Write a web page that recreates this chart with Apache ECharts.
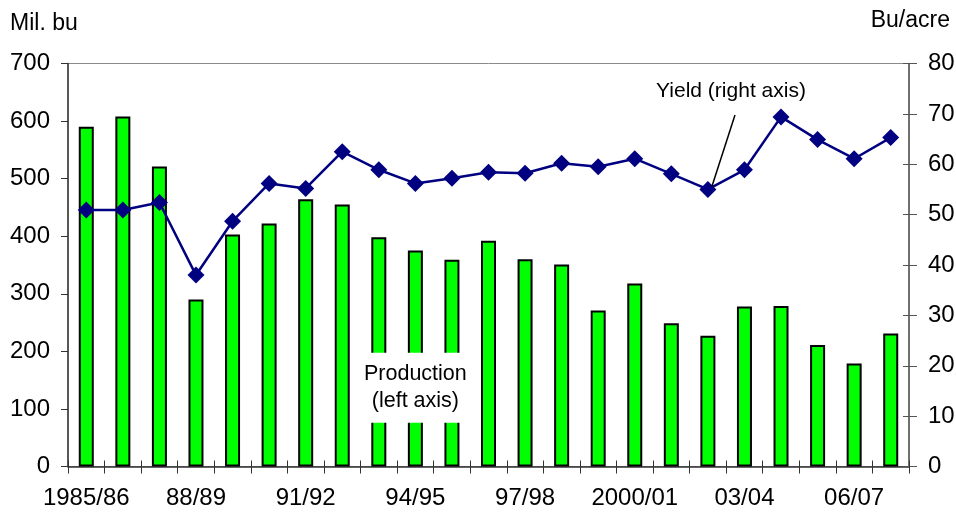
<!DOCTYPE html>
<html>
<head>
<meta charset="utf-8">
<script src="https://cdn.jsdelivr.net/npm/echarts@6/dist/echarts.min.js"></script>
<style>
html, body { margin: 0; padding: 0; background: #fff; }
#chart { width: 956px; height: 512px; }
</style>
</head>
<body>
<div id="chart"></div>
<script>
var years = ['1985/86', '86/87', '87/88', '88/89', '89/90', '90/91', '91/92', '92/93', '93/94',
	'94/95', '95/96', '96/97', '97/98', '98/99', '99/2000', '2000/01', '01/02', '02/03',
	'03/04', '04/05', '05/06', '06/07', '07/08'];
// Mil. bu (left axis)
var production = [590, 608, 521, 290, 403, 422, 464, 455, 398, 375, 359, 392, 360, 351,
	271, 318, 249, 227, 278, 279, 211, 179, 231];
// Bu/acre (right axis)
var yieldPerAcre = [50.9, 50.9, 52.4, 38.0, 48.7, 56.2, 55.2, 62.5, 58.9, 56.2, 57.2, 58.4,
	58.2, 60.2, 59.5, 61.1, 58.1, 55.0, 58.9, 69.4, 64.9, 61.1, 65.3];
var leftAxis = { min: 0, max: 700, step: 100 };
var rightAxis = { min: 0, max: 80, step: 10 };

var font = "'Liberation Sans', Arial, sans-serif";
var chart = echarts.init(document.getElementById('chart'));

chart.setOption({
	animation: false,
	backgroundColor: '#fff',
	grid: {
		left: 68, right: 47, top: 63.5, bottom: 45.5,
		show: true, borderColor: '#8a8a8a', borderWidth: 1,
		outerBoundsMode: 'none'
	},
	xAxis: [
		{
			type: 'category',
			data: years,
			axisLine: { lineStyle: { color: '#333', width: 1.5 } },
			axisTick: { show: true, interval: 0, length: 7, lineStyle: { color: '#333' } },
			axisLabel: { interval: 2, margin: 20, color: '#000', fontSize: 24, fontFamily: font },
			splitLine: { show: false }
		},
		{
			// inner half of the crossing ticks
			type: 'category',
			data: years,
			position: 'bottom',
			axisLine: { show: false },
			axisTick: { show: true, inside: true, interval: 0, length: 6, lineStyle: { color: '#333' } },
			axisLabel: { show: false },
			splitLine: { show: false }
		}
	],
	yAxis: [
		{
			type: 'value',
			min: leftAxis.min, max: leftAxis.max, interval: leftAxis.step,
			axisLine: { show: true, lineStyle: { color: '#333', width: 1.5 } },
			axisTick: { show: true, length: 7, lineStyle: { color: '#333' } },
			axisLabel: { margin: 18, color: '#000', fontSize: 24, fontFamily: font },
			splitLine: { show: false }
		},
		{
			type: 'value',
			position: 'right',
			min: rightAxis.min, max: rightAxis.max, interval: rightAxis.step,
			axisLine: { show: true, lineStyle: { color: '#555', width: 1.5 } },
			axisTick: { show: true, length: 8, lineStyle: { color: '#555' } },
			axisLabel: { margin: 19, color: '#000', fontSize: 24, fontFamily: font },
			splitLine: { show: false }
		},
		{
			type: 'value',
			position: 'right',
			min: rightAxis.min, max: rightAxis.max, interval: rightAxis.step,
			axisLine: { show: false },
			axisTick: { show: true, inside: true, length: 6, lineStyle: { color: '#555' } },
			axisLabel: { show: false },
			splitLine: { show: false }
		}
	],
	series: [
		{
			name: 'Production',
			type: 'bar',
			yAxisIndex: 0,
			barWidth: 15,
			data: production,
			itemStyle: { color: '#00ff00', borderColor: '#000', borderWidth: 2 }
		},
		{
			name: 'Yield',
			type: 'line',
			yAxisIndex: 1,
			data: yieldPerAcre,
			z: 5,
			symbol: 'diamond',
			symbolSize: 17,
			lineStyle: { color: '#000080', width: 2.5 },
			itemStyle: { color: '#000080' }
		}
	]
});

// annotations, anchored to the data
var prodAnchor = chart.convertToPixel({ xAxisIndex: 0, yAxisIndex: 0 }, [9, 137]);
var lowYield = chart.convertToPixel({ xAxisIndex: 0, yAxisIndex: 1 }, [17, yieldPerAcre[17]]);

chart.setOption({
	graphic: [
		{
			type: 'text', left: 10, top: 12,
			style: { text: 'Mil. bu', font: '23px ' + font, fill: '#000' }
		},
		{
			type: 'text', right: 6, top: 9,
			style: { text: 'Bu/acre', font: '23px ' + font, fill: '#000' }
		},
		{
			type: 'text', x: prodAnchor[0], y: prodAnchor[1], z: 10,
			style: {
				text: 'Production\n(left axis)', font: '21.5px ' + font, fill: '#000',
				align: 'center', verticalAlign: 'middle', lineHeight: 27,
				backgroundColor: '#fff', padding: [8, 4, 8, 4]
			}
		},
		{
			type: 'text', x: 731, y: 91, z: 10,
			style: {
				text: 'Yield (right axis)', font: '21px ' + font, fill: '#000',
				align: 'center', verticalAlign: 'middle'
			}
		},
		{
			type: 'line', z: 10,
			shape: { x1: 735, y1: 115, x2: lowYield[0] + 4, y2: lowYield[1] - 3 },
			style: { stroke: '#000', lineWidth: 1.5 }
		}
	]
});
</script>
</body>
</html>
